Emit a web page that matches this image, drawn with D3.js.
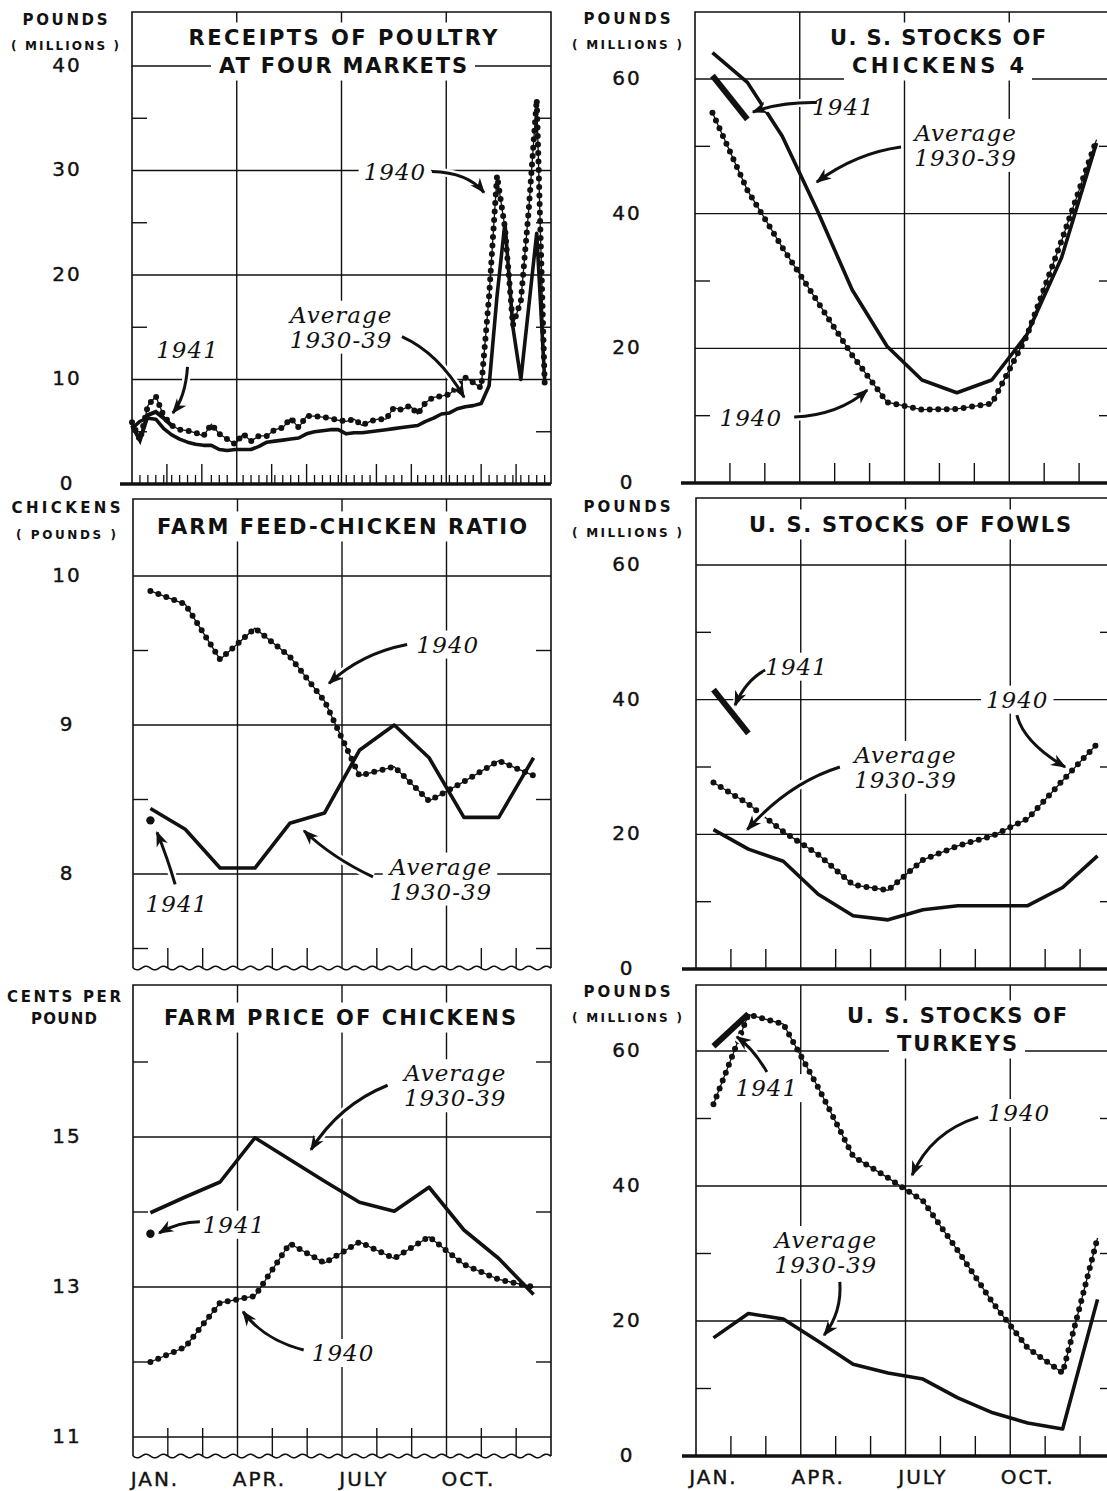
<!DOCTYPE html>
<html>
<head>
<meta charset="utf-8">
<script src="https://cdn.jsdelivr.net/npm/d3@7"></script>
<style>
  body { margin: 0; background: #fff; }
  svg { display: block; }
  .title { font-family: 'DejaVu Sans', sans-serif; font-weight: bold; font-size: 21px; }
  .unit { font-family: 'DejaVu Sans', sans-serif; font-weight: bold; }
  .note { font-family: 'DejaVu Serif', serif; font-style: italic; font-size: 23px; letter-spacing: 1px; }
  .month { font-family: 'DejaVu Sans', sans-serif; font-size: 20px; letter-spacing: 2px; }
</style>
</head>
<body>
<div id="chart"></div>
<script>
// ---- data ----
var monthLabels = ['JAN.', 'APR.', 'JULY', 'OCT.']
var monthLabelAt = [0, 3, 6, 9]

var receiptsTicks = [0, 10, 20, 30, 40]
var stocksTicks = [0, 20, 40, 60]
var ratioTicks = [8, 9, 10]
var priceTicks = [11, 13, 15]

// weekly, millions of pounds
var receipts1940 = [5.9, 4.2, 7.5, 8.4, 6.5, 5.6, 5.2, 5.1, 4.9, 4.6, 5.7, 4.8, 4.3, 3.8, 4.8, 4.1, 4.6, 4.6,
  5.2, 5.4, 6.3, 5.4, 6.5, 6.5, 6.4, 6.3, 6.1, 6.0, 6.2, 5.6, 6.0, 6.2, 6.2, 7.3, 7.1, 7.5, 6.7, 7.8, 8.3,
  8.4, 8.6, 9.3, 10.2, 9.7, 9.2, 18.0, 29.5, 24.5, 15.2, 17.5, 26.3, 36.8, 9.7]
var receiptsAvg = [5.3, 6.0, 6.3, 6.2, 5.3, 4.7, 4.3, 4.0, 3.8, 3.7, 3.7, 3.3, 3.2, 3.3, 3.3, 3.3, 3.6, 4.0,
  4.1, 4.2, 4.3, 4.4, 4.8, 5.0, 5.1, 5.2, 5.2, 4.8, 4.9, 4.9, 5.0, 5.1, 5.2, 5.3, 5.4, 5.5, 5.6, 6.0, 6.3,
  6.7, 6.8, 7.2, 7.4, 7.5, 7.7, 9.4, 18, 25, 15, 10, 17, 24, 10]
var receipts1941 = [5.6, 4.2, 6.6, 6.9, 6.3, 5.6]

// monthly
var chickens1940 = [55, 43.5, 35, 27, 19, 12, 10.9, 11.0, 11.8, 21.8, 36, 51]
var chickensAvg = [63.9, 59.5, 51.5, 40.5, 28.7, 20.3, 15.3, 13.4, 15.3, 22.0, 33.5, 50.5]
var chickens1941 = [60.5, 54]

var ratio1940 = [9.90, 9.81, 9.44, 9.65, 9.46, 9.16, 8.66, 8.72, 8.49, 8.62, 8.76, 8.66]
var ratioAvg = [8.44, 8.30, 8.04, 8.04, 8.34, 8.41, 8.83, 9.0, 8.78, 8.38, 8.38, 8.78]
var ratio1941 = [8.36]

var fowls1940 = [27.7, 24.5, 20.4, 17.0, 12.5, 11.7, 16.2, 18.3, 19.8, 22.3, 28.0, 33.5]
var fowlsAvg = [20.7, 17.8, 16.0, 11.1, 7.9, 7.3, 8.8, 9.4, 9.4, 9.4, 12.1, 16.8]
var fowls1941 = [41.5, 35]

var price1940 = [12.0, 12.2, 12.79, 12.88, 13.58, 13.32, 13.6, 13.38, 13.67, 13.30, 13.10, 13.0]
var priceAvg = [13.99, 14.2, 14.40, 14.99, 14.7, 14.41, 14.13, 14.01, 14.33, 13.76, 13.38, 12.90]
var price1941 = [13.71]

var turkeys1940 = [52.1, 65.4, 64, 54.6, 44.4, 41.2, 37.8, 30.4, 22.7, 16, 12.3, 32.3]
var turkeysAvg = [17.5, 21.1, 20.3, 17.0, 13.6, 12.3, 11.4, 8.6, 6.4, 4.9, 4.0, 23.2]
var turkeys1941 = [60.7, 65.5]

var ink = '#111'

var svg = d3.select('#chart').append('svg')
  .attr('width', 1107).attr('height', 1491)
  .style('background', '#fff')

svg.append('defs').append('marker')
  .attr('id', 'head')
  .attr('viewBox', '-16 -8 18 16')
  .attr('markerWidth', 18).attr('markerHeight', 16)
  .attr('markerUnits', 'userSpaceOnUse')
  .attr('orient', 'auto')
  .append('path')
  .attr('d', 'M1.5,0 L-14,-6 L-9.5,0 L-14,6 Z')
  .attr('fill', ink)

function drawPanel(p) {
  var g = svg.append('g')
  var x = d3.scaleLinear().domain([0, 12]).range([p.x0, p.x1])
  var y = d3.scaleLinear().domain(p.domain).range(p.range)
  var xw = d3.scaleLinear().domain([0, 52.8]).range([p.x0, p.x1])
  var xAt = p.weekly ? (d, i) => xw(i) : (d, i) => x(i + 0.5)

  var grid = g.append('g').attr('stroke', ink).attr('fill', 'none')
  var boxes = g.append('g').attr('fill', '#fff')
  var lines = g.append('g').attr('fill', 'none').attr('stroke', ink)
  var arrows = g.append('g').attr('fill', 'none')
  var texts = g.append('g').attr('fill', ink)

  // frame
  grid.append('path')
    .attr('d', `M${p.x0},${p.bottom}V${p.top}H${p.x1}V${p.bottom}`)
    .attr('stroke-width', 1.6)

  // major gridlines
  grid.selectAll(null).data(p.ticks.filter(t => y(t) < p.bottom - 4)).join('line')
    .attr('x1', p.x0).attr('x2', p.x1)
    .attr('y1', d => y(d)).attr('y2', d => y(d))
    .attr('stroke-width', 1.4)

  // half-way ticks at both edges
  var half = p.half.filter(t => y(t) > p.top + 5 && y(t) < p.bottom - 5)
  grid.selectAll(null).data(half.flatMap(t => [[p.x0, p.x0 + 15, t], [p.x1 - 15, p.x1, t]])).join('line')
    .attr('x1', d => d[0]).attr('x2', d => d[1])
    .attr('y1', d => y(d[2])).attr('y2', d => y(d[2]))
    .attr('stroke-width', 1.4)

  // quarter gridlines
  grid.selectAll(null).data([3, 6, 9]).join('line')
    .attr('x1', d => x(d)).attr('x2', d => x(d))
    .attr('y1', p.top).attr('y2', p.bottom)
    .attr('stroke-width', 1.4)

  // month ticks
  grid.selectAll(null).data([1, 2, 4, 5, 7, 8, 10, 11]).join('line')
    .attr('x1', d => x(d)).attr('x2', d => x(d))
    .attr('y1', p.bottom).attr('y2', p.bottom - (p.tickH || 20))
    .attr('stroke-width', 1.4)

  if (p.weekly) {
    var monthX = d3.range(1, 12).map(m => x(m))
    var weeks = d3.range(1, 53).filter(i => d3.min(monthX, mx => Math.abs(mx - xw(i))) > 3)
    grid.selectAll(null).data(weeks).join('line')
      .attr('x1', d => xw(d)).attr('x2', d => xw(d))
      .attr('y1', p.bottom).attr('y2', p.bottom - 9)
      .attr('stroke-width', 1.3)
  }

  if (p.wavy) {
    var wave = d3.range(p.x0, p.x1 + 0.5, 1)
      .map(v => [v, p.bottom + 1.8 * Math.sin((v - p.x0) / 17.4 * 2 * Math.PI)])
    grid.append('path').attr('d', d3.line()(wave)).attr('stroke-width', 1.6)
  } else {
    grid.append('line')
      .attr('x1', p.baseFrom).attr('x2', p.x1)
      .attr('y1', p.bottom).attr('y2', p.bottom)
      .attr('stroke-width', 3.6)
  }

  // value labels
  var ax = g.append('g')
    .attr('transform', `translate(${p.labelX},-1)`)
    .call(d3.axisLeft(y).tickValues(p.ticks).tickSize(0).tickPadding(0).tickFormat(d3.format('d')))
  ax.select('.domain').remove()
  ax.attr('font-family', "'DejaVu Sans', sans-serif").attr('font-size', 20)
  ax.selectAll('text')
    .attr('x', 0).attr('text-anchor', 'middle').attr('fill', ink)
    .attr('letter-spacing', 2).attr('stroke', ink).attr('stroke-width', 0.4)

  // unit label
  p.unit.forEach((u, i) => {
    texts.append('text').attr('class', 'unit')
      .attr('x', p.unitX).attr('y', p.unitY[i])
      .attr('text-anchor', 'middle')
      .attr('font-size', i == 0 || p.unitSame ? 15 : 12)
      .attr('textLength', p.unitLen[i]).attr('lengthAdjust', 'spacing')
      .text(u)
  })

  // title with a white patch behind each line
  p.title.forEach((t, i) => {
    var el = texts.append('text').attr('class', 'title')
      .attr('x', p.titleX).attr('y', p.titleY + i * 28 + 7.5)
      .attr('text-anchor', 'middle')
      .attr('textLength', p.titleLen[i]).attr('lengthAdjust', 'spacing')
      .text(t)
    var b = el.node().getBBox()
    boxes.append('rect')
      .attr('x', b.x - 8).attr('y', b.y - 3)
      .attr('width', b.width + 16).attr('height', b.height + 6)
  })

  // series
  var line = d3.line().x(xAt).y(d => y(d))
  lines.append('path').attr('d', line(p.avg))
    .attr('stroke-width', 3.6).attr('stroke-linejoin', 'round')
  lines.append('path').attr('d', line(p.y1940)).attr('stroke-width', 1.3)
  lines.append('path').attr('d', line(p.y1940))
    .attr('stroke-width', 6).attr('stroke-linecap', 'round').attr('stroke-dasharray', '0 8.5')
  if (p.y1941.length > 1) {
    lines.append('path').attr('d', line(p.y1941)).attr('stroke-width', p.weekly ? 4 : 6)
  } else {
    lines.append('circle').attr('cx', xAt(0, 0)).attr('cy', y(p.y1941[0]))
      .attr('r', 4.2).attr('fill', ink).attr('stroke', 'none')
  }

  // notes with arrows
  p.notes.forEach(n => {
    var t = texts.append('text').attr('class', 'note').attr('text-anchor', 'middle')
    n.lines.forEach((l, i) => {
      t.append('tspan').attr('x', x(n.at[0])).attr('y', y(n.at[1]) + 8 + i * 25).text(l)
    })
    var b = t.node().getBBox()
    boxes.append('rect')
      .attr('x', b.x - 5).attr('y', b.y - 1)
      .attr('width', b.width + 10).attr('height', b.height + 2)
    var a = n.arrow.map(d => [x(d[0]), y(d[1])])
    var d = `M${a[0]}Q${a[1]} ${a[2]}`
    arrows.append('path').attr('d', d).attr('stroke', '#fff').attr('stroke-width', 8)
    arrows.append('path').attr('d', d).attr('stroke', ink).attr('stroke-width', 3)
      .attr('marker-end', 'url(#head)')
  })

  if (p.months) {
    texts.selectAll(null).data(monthLabels).join('text').attr('class', 'month')
      .attr('x', (d, i) => x(monthLabelAt[i] + p.monthOff))
      .attr('y', p.monthY)
      .attr('text-anchor', 'middle')
      .attr('stroke', ink).attr('stroke-width', 0.4)
      .text(d => d)
  }
}

var poundsUnit = ['POUNDS', '( MILLIONS )']

drawPanel({
  x0: 132, x1: 551, top: 12, bottom: 484, baseFrom: 120,
  domain: [0, 40], range: [484, 66], ticks: receiptsTicks, half: [5, 15, 25, 35],
  weekly: true, labelX: 67,
  unit: poundsUnit, unitX: 65, unitY: [25, 50], unitLen: [85, 108],
  title: ['RECEIPTS OF POULTRY', 'AT FOUR MARKETS'], titleX: 343, titleY: 37, titleLen: [309, 248],
  avg: receiptsAvg, y1940: receipts1940, y1941: receipts1941,
  notes: [
    { lines: ['1940'], at: [7.53, 29.9], arrow: [[8.59, 29.9], [9.62, 29.8], [10.08, 27.9]] },
    { lines: ['Average', '1930-39'], at: [5.99, 16.2], arrow: [[7.73, 14.1], [8.79, 12.5], [9.51, 8.3]] },
    { lines: ['1941'], at: [1.59, 12.8], arrow: [[1.59, 11.2], [1.53, 8.3], [1.17, 6.8]] }
  ]
})

drawPanel({
  x0: 695, x1: 1114, top: 12, bottom: 483, baseFrom: 681,
  domain: [0, 60], range: [483, 79], ticks: stocksTicks, half: [10, 30, 50],
  labelX: 627,
  unit: poundsUnit, unitX: 627, unitY: [24, 49], unitLen: [87, 110],
  title: ['U. S. STOCKS OF', 'CHICKENS 4'], titleX: 938, titleY: 37, titleLen: [216, 172],
  avg: chickensAvg, y1940: chickens1940, y1941: chickens1941,
  notes: [
    { lines: ['1941'], at: [4.25, 55.9], arrow: [[3.49, 56.5], [2.46, 56.6], [1.66, 55.1]] },
    { lines: ['Average', '1930-39'], at: [7.75, 52.0], arrow: [[5.9, 49.9], [4.61, 49.0], [3.49, 44.7]] },
    { lines: ['1940'], at: [1.6, 9.66], arrow: [[2.84, 9.8], [4.12, 10.1], [4.93, 13.8]] }
  ]
})

drawPanel({
  x0: 133, x1: 551, top: 499, bottom: 968, wavy: true,
  domain: [8, 10], range: [874, 576], ticks: ratioTicks, half: [7.5, 8.5, 9.5],
  labelX: 67,
  unit: ['CHICKENS', '( POUNDS )'], unitX: 66, unitY: [513, 539], unitLen: [109, 100],
  title: ['FARM FEED-CHICKEN RATIO'], titleX: 342, titleY: 526, titleLen: [370],
  avg: ratioAvg, y1940: ratio1940, y1941: ratio1941,
  notes: [
    { lines: ['1940'], at: [9.04, 9.54], arrow: [[7.87, 9.54], [6.55, 9.48], [5.63, 9.28]] },
    { lines: ['Average', '1930-39'], at: [8.84, 8.05], arrow: [[6.89, 7.98], [5.71, 8.11], [4.91, 8.29]] },
    { lines: ['1941'], at: [1.26, 7.80], arrow: [[1.21, 7.93], [1.0, 8.10], [0.69, 8.28]] }
  ]
})

drawPanel({
  x0: 696, x1: 1115, top: 498, bottom: 969, baseFrom: 682,
  domain: [0, 60], range: [969, 565], ticks: stocksTicks, half: [10, 30, 50],
  labelX: 627,
  unit: poundsUnit, unitX: 627, unitY: [512, 537], unitLen: [87, 110],
  title: ['U. S. STOCKS OF FOWLS'], titleX: 910, titleY: 524, titleLen: [322],
  avg: fowlsAvg, y1940: fowls1940, y1941: fowls1941,
  notes: [
    { lines: ['1941'], at: [2.88, 44.9], arrow: [[1.98, 44.4], [1.43, 42.9], [1.12, 39.2]] },
    { lines: ['1940'], at: [9.2, 40.0], arrow: [[9.19, 37.7], [9.39, 33.6], [10.57, 30.0]] },
    { lines: ['Average', '1930-39'], at: [6.0, 31.8], arrow: [[4.12, 30.0], [2.65, 27.6], [1.47, 20.7]] }
  ]
})

drawPanel({
  x0: 133, x1: 551, top: 985, bottom: 1456, wavy: true, tickH: 28,
  domain: [13, 15], range: [1287, 1137], ticks: priceTicks, half: [12, 14, 16],
  labelX: 67,
  unit: ['CENTS PER', 'POUND'], unitX: 64, unitY: [1002, 1024], unitLen: [114, 66], unitSame: true,
  title: ['FARM PRICE OF CHICKENS'], titleX: 340, titleY: 1017, titleLen: [352],
  avg: priceAvg, y1940: price1940, y1941: price1941,
  months: true, monthOff: 0.63, monthY: 1486,
  notes: [
    { lines: ['Average', '1930-39'], at: [9.25, 15.85], arrow: [[7.31, 15.69], [5.92, 15.43], [5.11, 14.83]] },
    { lines: ['1941'], at: [2.90, 13.83], arrow: [[1.92, 13.87], [1.31, 13.87], [0.75, 13.72]] },
    { lines: ['1940'], at: [6.03, 12.12], arrow: [[4.9, 12.16], [3.77, 12.29], [3.16, 12.67]] }
  ]
})

drawPanel({
  x0: 696, x1: 1115, top: 985, bottom: 1456, baseFrom: 682,
  domain: [0, 60], range: [1456, 1051], ticks: stocksTicks, half: [10, 30, 50],
  labelX: 627,
  unit: poundsUnit, unitX: 627, unitY: [997, 1022], unitLen: [87, 110],
  title: ['U. S. STOCKS OF', 'TURKEYS'], titleX: 957, titleY: 1015, titleLen: [220, 120],
  avg: turkeysAvg, y1940: turkeys1940, y1941: turkeys1941,
  months: true, monthOff: 0.5, monthY: 1484,
  notes: [
    { lines: ['1941'], at: [2.03, 54.5], arrow: [[2.03, 56.9], [1.63, 60.4], [1.17, 62.1]] },
    { lines: ['1940'], at: [9.25, 50.8], arrow: [[8.08, 50.2], [6.73, 48.0], [6.19, 41.6]] },
    { lines: ['Average', '1930-39'], at: [3.72, 32.0], arrow: [[4.12, 25.8], [4.18, 21.3], [3.67, 17.9]] }
  ]
})
</script>
</body>
</html>
